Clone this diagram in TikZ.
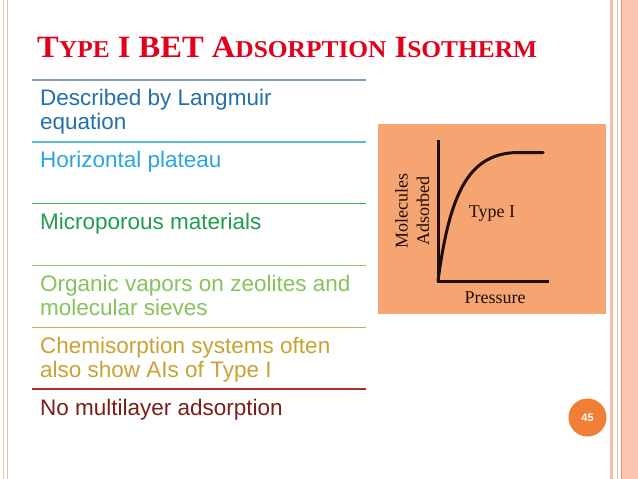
\documentclass[tikz,border=0pt]{standalone}
\usepackage{fontspec}
\setmainfont{Liberation Sans}
\newfontfamily\serifnf{Liberation Serif}
\definecolor{titlered}{HTML}{E2001A}
\definecolor{rowA}{HTML}{2270AC}
\definecolor{rowB}{HTML}{29A8DD}
\definecolor{rowC}{HTML}{1E9E4E}
\definecolor{rowD}{HTML}{86C35A}
\definecolor{rowE}{HTML}{C9A232}
\definecolor{rowF}{HTML}{7A1E16}
\definecolor{sepA}{HTML}{7F9DB9}
\definecolor{sepB}{HTML}{5ABBD9}
\definecolor{sepC}{HTML}{3DB052}
\definecolor{sepD}{HTML}{8DC852}
\definecolor{sepE}{HTML}{C8B043}
\definecolor{sepF}{HTML}{A3332A}
\definecolor{plotbg}{HTML}{F6A572}
\definecolor{plotink}{HTML}{1E0E06}
\definecolor{numorange}{HTML}{F07F35}
\definecolor{borderA}{HTML}{F2BFAE}
\definecolor{borderB}{HTML}{FDC6B4}
\definecolor{borderC}{HTML}{E9906F}
\newcommand{\bigc}[1]{{\fontsize{31}{31}\selectfont #1}}
\newcommand{\smc}[1]{{\fontsize{24.2}{31}\selectfont #1}}
\tikzset{
  rowtext/.style={anchor=base west, inner sep=0pt, align=left, font=\fontsize{22.5}{24.8}\selectfont},
  sepline/.style={line width=1.6pt},
  plotlabel/.style={inner sep=0pt, text=plotink, font=\serifnf\fontsize{18}{18}\selectfont},
  axis/.style={line width=3pt, draw=plotink},
}
\begin{document}
\begin{tikzpicture}[x=1pt,y=-1pt]
\useasboundingbox (0,0) rectangle (638,479);
% borders
\fill[white] (0,0) rectangle (638,479);
\draw[borderA, line width=1.3pt] (3.5,0) -- (3.5,479);
\draw[borderA, line width=1pt] (7.5,0) -- (7.5,479);
\fill[borderB] (621,0) rectangle (638,479);
\draw[borderA, line width=2.6pt] (611.3,0) -- (611.3,479);
\draw[borderA, line width=1pt] (617.3,0) -- (617.3,479);
\draw[borderC, line width=1pt] (621.8,0) -- (621.8,479);
% title
\node[anchor=base west, inner sep=0pt, text=titlered, font=\serifnf\bfseries\fontsize{31}{31}\selectfont] (title) at (37,57)
  {\scalebox{1.05}[1]{\bigc{T}\smc{YPE} \bigc{I} \bigc{BET} \bigc{A}\smc{DSORPTION} \bigc{I}\smc{SOTHERM}}};
% separators
\coordinate (s1l) at (32,80);  \coordinate (s1r) at (366,80);
\coordinate (s2l) at (32,142); \coordinate (s2r) at (366,142);
\coordinate (s3l) at (32,203.5); \coordinate (s3r) at (366,203.5);
\coordinate (s4l) at (32,265.5); \coordinate (s4r) at (366,265.5);
\coordinate (s5l) at (32,327.5); \coordinate (s5r) at (366,327.5);
\coordinate (s6l) at (32,389); \coordinate (s6r) at (366,389);
\draw[sepline, sepA] (s1l) -- (s1r);
\draw[sepline, sepB] (s2l) -- (s2r);
\draw[sepline, sepC] (s3l) -- (s3r);
\draw[sepline, sepD] (s4l) -- (s4r);
\draw[sepline, sepE] (s5l) -- (s5r);
\draw[sepline, sepF] (s6l) -- (s6r);
% rows (base anchor of a two-line node is the last line's baseline)
\node[rowtext, text=rowA] (r1) at (40,129.8) {Described by Langmuir\\equation};
\node[rowtext, text=rowB] (r2) at (40,167) {Horizontal plateau};
\node[rowtext, text=rowC] (r3) at (40,229) {Microporous materials};
\node[rowtext, text=rowD] (r4) at (40,315.8) {Organic vapors on zeolites and\\molecular sieves};
\node[rowtext, text=rowE] (r5) at (40,377.8) {Chemisorption systems often\\also show AIs of Type I};
\node[rowtext, text=rowF] (r6) at (40,415) {No multilayer adsorption};
% plot
\fill[plotbg] (378,124) rectangle (606,313.5);
\coordinate (origin) at (438,281);
\coordinate (ytop) at (438,140);
\coordinate (xend) at (549,281);
\draw[axis] (ytop) -- (origin) -- (xend);
\draw[axis, line cap=round] (origin) .. controls (450,190) and (470,152) .. (520,152.5) -- (543,152.5);
\node[plotlabel, rotate=90] (mol) at (401.5,211) {Molecules};
\node[plotlabel, rotate=90] (ads) at (423,211) {Adsorbed};
\node[plotlabel] (typ) at (492,214) {Type I};
\node[plotlabel] (pres) at (495,298) {Pressure};
% slide number
\node[circle, fill=numorange, minimum size=38pt, inner sep=0pt, text=white, font=\bfseries\fontsize{11}{11}\selectfont] (num) at (587.5,417.5) {45};
\end{tikzpicture}
\end{document}
